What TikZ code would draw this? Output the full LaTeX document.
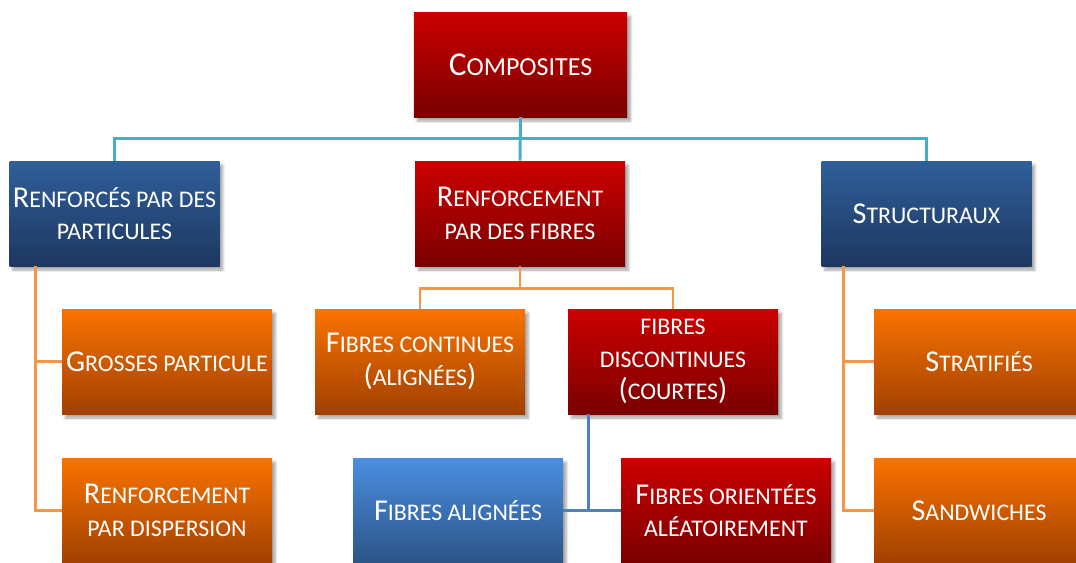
\documentclass[tikz,border=0pt]{standalone}
\usepackage{fontspec}
\setmainfont{Carlito}
\usepackage{xcolor}
\usetikzlibrary{positioning, calc, shadows.blur}

\definecolor{redtop}{HTML}{CC0000}
\definecolor{redbot}{HTML}{7A0000}
\definecolor{navytop}{HTML}{2F5F9A}
\definecolor{navybot}{HTML}{1D3760}
\definecolor{orgtop}{HTML}{FA7300}
\definecolor{orgbot}{HTML}{A04000}
\definecolor{skytop}{HTML}{4A8EE0}
\definecolor{skybot}{HTML}{2C5487}
\definecolor{cyanline}{HTML}{4BACC6}
\definecolor{orgline}{HTML}{F79646}
\definecolor{blueline}{HTML}{4F81BD}

% small capitals drawn from scaled upper case letters
\newcommand{\lc}[1]{{\fontsize{17.9}{24.4}\selectfont\MakeUppercase{#1}}}
\newcommand{\biglc}[1]{{\fontsize{19.5}{28}\selectfont\MakeUppercase{#1}}}

\tikzset{
  box/.style={rectangle, minimum width=157.5pt, minimum height=78.75pt,
    inner sep=0pt, align=center, text=white,
    font=\fontsize{22.7}{24.4}\selectfont,
    blur shadow={shadow xshift=2.5pt, shadow yshift=-3pt,
      shadow opacity=35, shadow blur steps=6}},
  redbox/.style={box, top color=redtop, bottom color=redbot},
  navybox/.style={box, top color=navytop, bottom color=navybot},
  orgbox/.style={box, top color=orgtop, bottom color=orgbot},
  skybox/.style={box, top color=skytop, bottom color=skybot},
  link/.style={line width=2.2pt},
}

\begin{document}
\begin{tikzpicture}[x=0.75pt,y=0.75pt,yscale=-1,xscale=1]
\useasboundingbox (0,0) rectangle (1076,562);

% top of the tree
\node[redbox, minimum width=160pt, font=\fontsize{25}{28}\selectfont]
  (comp) at (520.5,64.5) {C\biglc{omposites}};

% first level
\node[navybox] (partic) at (114.5,213.5)
  {R\lc{enforcés par des}\\\lc{particules}};
\node[redbox] (fibres) at (520,213.5) {R\lc{enforcement}\\\lc{par des fibres}};
\node[navybox] (struct) at (926.5,213.5) {S\lc{tructuraux}};

% particles branch
\node[orgbox] (gross) at (167,361.5) {G\lc{rosses particule}};
\node[orgbox] (disp) at (167,510.5) {R\lc{enforcement}\\\lc{par dispersion}};

% fibres branch
\node[orgbox] (cont) at (420,361.5) {F\lc{ibres continues}\\(\lc{alignées})};
\node[redbox] (discont) at (673,361.5)
  {\lc{fibres}\\\lc{discontinues}\\(\lc{courtes})};
\node[skybox] (align) at (458,510.5) {F\lc{ibres alignées}};
\node[redbox] (aleat) at (726,510.5) {F\lc{ibres orientées}\\\lc{aléatoirement}};

% structural branch
\node[orgbox] (strat) at (979,361.5) {S\lc{tratifiés}};
\node[orgbox] (sand) at (979,510.5) {S\lc{andwiches}};

% Connectors
\draw[link, cyanline] (comp.south) -- ++(0,21) -| (partic.north);
\draw[link, cyanline] (comp.south) -- ++(0,21) -| (struct.north);
\draw[link, cyanline] (comp.south) -- (fibres.north);

\draw[link, orgline] ($(partic.south west)+(26,0)$) |- (gross.west);
\draw[link, orgline] ($(partic.south west)+(26,0)$) |- (disp.west);

\draw[link, orgline] (fibres.south) -- ++(0,22) -| (cont.north);
\draw[link, orgline] (fibres.south) -- ++(0,22) -| (discont.north);

\draw[link, blueline] ($(discont.south west)+(21,0)$) |- (align.east);
\draw[link, blueline] (align.east) -- (aleat.west);

\draw[link, orgline] ($(struct.south west)+(22,0)$) |- (strat.west);
\draw[link, orgline] ($(struct.south west)+(22,0)$) |- (sand.west);

\end{tikzpicture}
\end{document}
